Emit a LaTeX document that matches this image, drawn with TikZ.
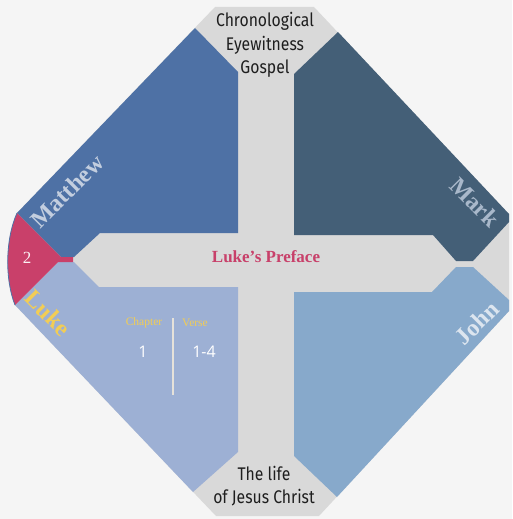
\documentclass[tikz,border=0pt]{standalone}
\usepackage{fontspec}
\newfontfamily\condsans[FakeStretch=0.86]{Fira Sans}
\newfontfamily\labserif{Liberation Serif}
\newfontfamily\numsans{Open Sans}
\definecolor{bgc}{HTML}{F5F5F5}
\definecolor{grayc}{HTML}{D9D9D9}
\definecolor{matc}{HTML}{4E71A5}
\definecolor{markc}{HTML}{445F77}
\definecolor{lukec}{HTML}{9DB0D4}
\definecolor{johnc}{HTML}{87A9CB}
\definecolor{redc}{HTML}{C9406A}
\definecolor{prefc}{HTML}{C8406A}
\definecolor{matlab}{HTML}{C3CEDF}
\definecolor{marklab}{HTML}{A9B8CA}
\definecolor{lukelab}{HTML}{F2CD55}
\definecolor{johnlab}{HTML}{DCE5EF}
\definecolor{divc}{HTML}{E6E2DA}
\definecolor{darktext}{HTML}{1E1E1E}
\begin{document}
\begin{tikzpicture}[x=1pt,y=-1pt,
  sanstext/.style={text=darktext, align=center, inner sep=0pt,
    font=\condsans\fontsize{18.3}{23.5}\selectfont},
  quadlabel/.style={inner sep=0pt, font=\labserif\bfseries\fontsize{24}{26}\selectfont},
  smalllab/.style={inner sep=0pt, text=lukelab, font=\labserif\fontsize{11.5}{13}\selectfont},
  numlab/.style={inner sep=0pt, text=white, font=\numsans\fontsize{16}{18}\selectfont}]
\fill[bgc] (0,0) rectangle (512,519);
\useasboundingbox (0,0) rectangle (512,519);
% gray octagon (cross)
\fill[grayc] (215,7) -- (314,7) -- (509,214) -- (509,311) -- (319,516) -- (216,516) -- (15,305) -- (17,213) -- cycle;
% quadrants
\fill[matc] (17,213) -- (61,257) -- (74,257) -- (100,233) -- (238,233) -- (238,72) -- (195,28) -- cycle;
\fill[markc] (338,32) -- (294,74) -- (294,235) -- (433,235) -- (456,261) -- (473,261) -- (509,222) -- (509,214) -- cycle;
\fill[lukec] (15,305) -- (58,262) -- (74,262) -- (99,287) -- (238,287) -- (238,452) -- (193,492) -- cycle;
\fill[johnc] (294,292) -- (432,292) -- (456,267) -- (473,267) -- (509,300) -- (509,311) -- (337,497) -- (294,456) -- cycle;
% red segment
\fill[redc] (17,213) .. controls (5,240) and (5,280) .. (15,305) -- (58,262) -- (73,262) -- (73,257) -- (61,257) -- cycle;
\draw[matc, line width=0.8pt] (17,213) .. controls (5,240) and (5,280) .. (15,305);
% texts
\node[sanstext] (top) at (265,45) {Chronological\\Eyewitness\\Gospel};
\node[sanstext] (bottom) at (264,486) {The life\\of Jesus Christ};
\node[inner sep=0pt, text=prefc, font=\labserif\bfseries\fontsize{17}{19}\selectfont] (preface) at (266,257) {Luke’s Preface};
\node[quadlabel, text=matlab, rotate=45] (matthew) at (67,191) {Matthew};
\node[quadlabel, text=marklab, rotate=-45] (mark) at (475,202) {Mark};
\node[quadlabel, text=lukelab, rotate=-45] (luke) at (48,313) {Luke};
\node[quadlabel, text=johnlab, rotate=45] (john) at (477,323) {John};
\node[inner sep=0pt, text=white!92!redc, font=\labserif\fontsize{17}{18}\selectfont] (two) at (27,258) {2};
\node[smalllab] (chapter) at (144,323) {Chapter};
\node[smalllab] (verse) at (195,323) {Verse};
\node[numlab] (ch) at (143,352) {1};
\node[numlab] (vs) at (204,352) {1-4};
\coordinate (divtop) at (173,318);
\coordinate (divbot) at (173,395);
\draw[divc, line width=1.6pt] (divtop) -- (divbot);
\end{tikzpicture}
\end{document}
